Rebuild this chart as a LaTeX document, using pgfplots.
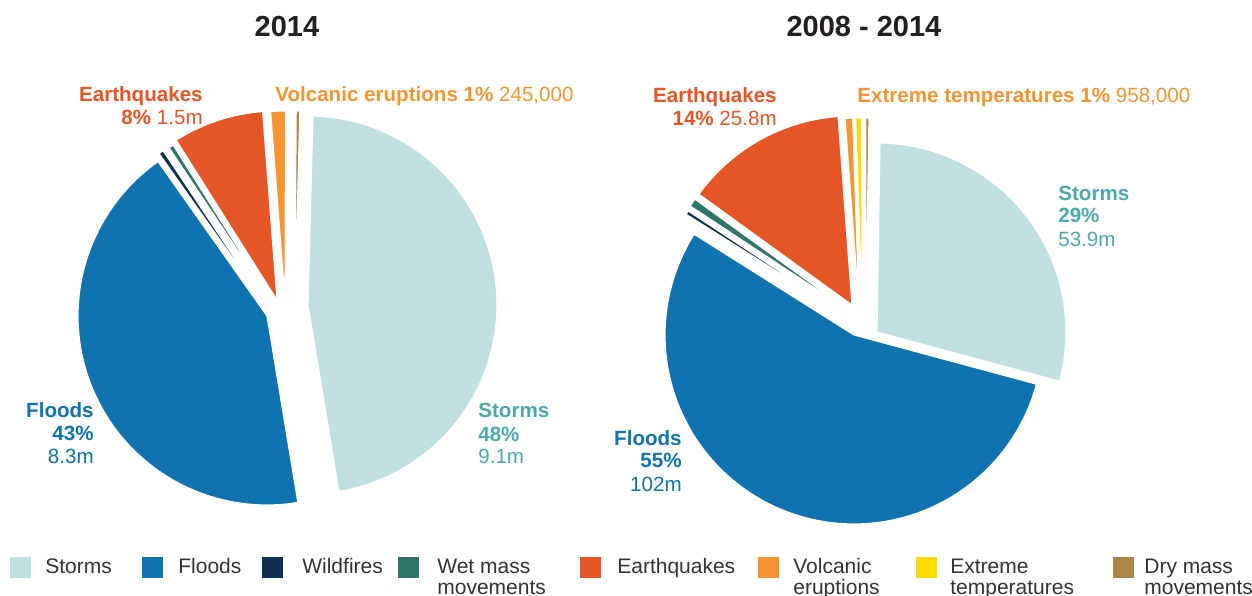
\documentclass[border=0pt]{standalone}
\usepackage{pgfplots}
\pgfplotsset{compat=1.18}
\usepackage{fontspec}
\setmainfont{Liberation Sans}

\definecolor{cStorm}{RGB}{191,224,223}
\definecolor{cStormT}{RGB}{77,168,172}
\definecolor{cFlood}{RGB}{16,114,174}
\definecolor{cWild}{RGB}{14,47,80}
\definecolor{cWet}{RGB}{46,117,104}
\definecolor{cEq}{RGB}{230,85,37}
\definecolor{cVolc}{RGB}{247,148,50}
\definecolor{cExt}{RGB}{255,219,0}
\definecolor{cDry}{RGB}{173,133,72}
\definecolor{cTitle}{RGB}{35,31,32}
\definecolor{cLeg}{RGB}{51,51,51}

\newcommand\lab{\fontsize{12.35}{14}\selectfont}
\newcommand\legf{\fontsize{12.6}{14}\selectfont}
\newcommand\titf{\fontsize{17.4}{21}\selectfont\bfseries}

% pie helpers: centre x, centre y (pixels, y downwards), start angle, total
\newcommand\piestart[4]{\pgfmathsetmacro\tmptot{#4}\gdef\pcx{#1}\gdef\pcy{#2}\gdef\pang{#3}\xdef\ptot{\tmptot}}
% slice: colour, value, dx, dy (explode offset in pixels)
\newcommand\slice[4]{%
  \pgfmathsetmacro\afrac{(#2)/\ptot}%
  \pgfmathsetmacro\aone{\pang}%
  \pgfmathsetmacro\atwo{\pang-360*\afrac}%
  \pgfmathsetmacro\sx{\pcx+(#3)}%
  \pgfmathsetmacro\sy{\pcy+(#4)}%
  \edef\doslice{\noexpand\addplot[fill=#1,draw=white,line width=0.7pt,domain=\atwo:\aone,samples=90,variable=\noexpand\t]
    ({\sx+189*cos(\noexpand\t)},{\sy-189*sin(\noexpand\t)}) -- (axis cs:\sx,\sy) -- cycle;}%
  \doslice
  \xdef\pang{\atwo}}
% legend square
\newcommand\legsq[2]{%
  \pgfmathsetmacro\sqr{#2+21}%
  \edef\dosq{\noexpand\addplot[fill=#1,draw=none] coordinates {(#2,556.5) (\sqr,556.5) (\sqr,578) (#2,578)} -- cycle;}%
  \dosq}

\begin{document}
\begin{tikzpicture}
\begin{axis}[scale only axis, width=751.2pt, height=357.6pt,
  xmin=0, xmax=1252, ymin=0, ymax=596, y dir=reverse,
  hide axis, clip=false]

% ---- 2014 (values in millions)
\piestart{277}{300}{88.5}{9.1+8.3+0.08+0.08+1.5+0.245+0.01+0.06}
\slice{cStorm}{9.1}{31}{5}
\slice{cFlood}{8.3}{-10}{16}
\slice{cWild}{0.08}{-9}{8}
\slice{cWet}{0.08}{-3}{5}
\slice{cEq}{1.5}{0}{0}
\slice{cVolc}{0.245}{8}{0}
\slice{cExt}{0.01}{14}{0}
\slice{cDry}{0.06}{18}{0}

% ---- 2008-2014 (values in millions)
\piestart{852}{305}{89.1}{53.9+102+0.6+1.3+25.8+1.2+0.958+0.5}
\slice{cStorm}{53.9}{25}{27}
\slice{cFlood}{102}{2}{30}
\slice{cWild}{0.6}{-6}{10}
\slice{cWet}{1.3}{-4}{5}
\slice{cEq}{25.8}{0}{0}
\slice{cVolc}{1.2}{7}{2}
\slice{cExt}{0.958}{10}{2}
\slice{cDry}{0.5}{14}{2}

% ---- legend squares
\legsq{cStorm}{10}
\legsq{cFlood}{142}
\legsq{cWild}{262}
\legsq{cWet}{398}
\legsq{cEq}{580}
\legsq{cVolc}{758}
\legsq{cExt}{916}
\legsq{cDry}{1113}

% ---- titles
\node[anchor=base, inner sep=0, text=cTitle, font=\titf] at (axis cs:287,37) {2014};
\node[anchor=base, inner sep=0, text=cTitle, font=\titf] at (axis cs:864,37) {2008 - 2014};

% ---- labels 2014
\node[anchor=base east, inner sep=0, text=cFlood, font=\lab\bfseries] at (axis cs:94,418) {Floods};
\node[anchor=base east, inner sep=0, text=cFlood, font=\lab\bfseries] at (axis cs:94,441) {43\%};
\node[anchor=base east, inner sep=0, text=cFlood, font=\lab] at (axis cs:94,463) {8.3m};
\node[anchor=base west, inner sep=0, text=cStormT, font=\lab\bfseries] at (axis cs:478,418) {Storms};
\node[anchor=base west, inner sep=0, text=cStormT, font=\lab\bfseries] at (axis cs:478,442) {48\%};
\node[anchor=base west, inner sep=0, text=cStormT, font=\lab] at (axis cs:478,464) {9.1m};
\node[anchor=base east, inner sep=0, text=cEq, font=\lab\bfseries] at (axis cs:203,102) {Earthquakes};
\node[anchor=base east, inner sep=0, text=cEq, font=\lab] at (axis cs:203,125) {\textbf{8\%} 1.5m};
\node[anchor=base west, inner sep=0, text=cVolc, font=\lab] at (axis cs:275,102) {\textbf{Volcanic eruptions 1\%} 245,000};

% ---- labels 2008-2014
\node[anchor=base east, inner sep=0, text=cFlood, font=\lab\bfseries] at (axis cs:682,446) {Floods};
\node[anchor=base east, inner sep=0, text=cFlood, font=\lab\bfseries] at (axis cs:682,468) {55\%};
\node[anchor=base east, inner sep=0, text=cFlood, font=\lab] at (axis cs:682,491) {102m};
\node[anchor=base west, inner sep=0, text=cStormT, font=\lab\bfseries] at (axis cs:1058,201) {Storms};
\node[anchor=base west, inner sep=0, text=cStormT, font=\lab\bfseries] at (axis cs:1058,223) {29\%};
\node[anchor=base west, inner sep=0, text=cStormT, font=\lab] at (axis cs:1058,247) {53.9m};
\node[anchor=base east, inner sep=0, text=cEq, font=\lab\bfseries] at (axis cs:777,103) {Earthquakes};
\node[anchor=base east, inner sep=0, text=cEq, font=\lab] at (axis cs:777,126) {\textbf{14\%} 25.8m};
\node[anchor=base west, inner sep=0, text=cVolc, font=\lab] at (axis cs:857,103) {\textbf{Extreme temperatures 1\%} 958,000};

% ---- legend texts
\node[anchor=base west, inner sep=0, text=cLeg, font=\legf] at (axis cs:45,573) {Storms};
\node[anchor=base west, inner sep=0, text=cLeg, font=\legf] at (axis cs:178,573) {Floods};
\node[anchor=base west, inner sep=0, text=cLeg, font=\legf] at (axis cs:302,573) {Wildfires};
\node[anchor=base west, inner sep=0, text=cLeg, font=\legf] at (axis cs:437,573) {Wet mass};
\node[anchor=base west, inner sep=0, text=cLeg, font=\legf] at (axis cs:437,594) {movements};
\node[anchor=base west, inner sep=0, text=cLeg, font=\legf] at (axis cs:617,573) {Earthquakes};
\node[anchor=base west, inner sep=0, text=cLeg, font=\legf] at (axis cs:793,573) {Volcanic};
\node[anchor=base west, inner sep=0, text=cLeg, font=\legf] at (axis cs:793,594) {eruptions};
\node[anchor=base west, inner sep=0, text=cLeg, font=\legf] at (axis cs:950,573) {Extreme};
\node[anchor=base west, inner sep=0, text=cLeg, font=\legf] at (axis cs:950,594) {temperatures};
\node[anchor=base west, inner sep=0, text=cLeg, font=\legf] at (axis cs:1144,573) {Dry mass};
\node[anchor=base west, inner sep=0, text=cLeg, font=\legf] at (axis cs:1144,594) {movements};
\end{axis}
\pgfresetboundingbox
\path (0,0) rectangle (751.2pt,357.6pt);
\end{tikzpicture}
\end{document}
